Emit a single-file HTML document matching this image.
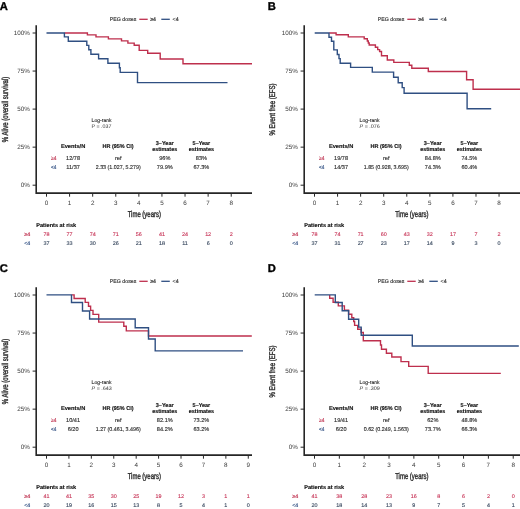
<!DOCTYPE html>
<html><head><meta charset="utf-8"><style>
html,body{margin:0;padding:0;background:#fff;}
svg{display:block;will-change:transform;text-rendering:geometricPrecision;font-family:"Liberation Sans",sans-serif;}
</style></head><body>
<svg width="520" height="509" viewBox="0 0 520 509">
<rect width="520" height="509" fill="#fff"/>
<g transform="translate(0,0)">
<text x="-0.30" y="9.80" font-size="11.2" font-weight="bold" fill="#000" stroke="#000" stroke-width="0.35">A</text>
<text x="109.80" y="20.60" font-size="5.3" textLength="26.5" lengthAdjust="spacingAndGlyphs" fill="#2e2e2e" stroke="#2e2e2e" stroke-width="0.14">PEG doses</text>
<line x1="139.3" y1="19.3" x2="147.7" y2="19.3" stroke="#be2f4d" stroke-width="1.3"/>
<text x="150.20" y="20.60" font-size="5.3" textLength="5.8" lengthAdjust="spacingAndGlyphs" fill="#2e2e2e" stroke="#2e2e2e" stroke-width="0.14">&#8805;4</text>
<line x1="161.3" y1="19.3" x2="169.8" y2="19.3" stroke="#2f4f82" stroke-width="1.3"/>
<text x="172.60" y="20.60" font-size="5.3" textLength="6.0" lengthAdjust="spacingAndGlyphs" fill="#2e2e2e" stroke="#2e2e2e" stroke-width="0.14">&lt;4</text>
<text transform="translate(8.2,109.5) rotate(-90)" font-size="8.6" text-anchor="middle" fill="#2e2e2e" stroke="#2e2e2e" stroke-width="0.4" textLength="65.4" lengthAdjust="spacingAndGlyphs">% Alive (overall survival)</text>
<line x1="32.6" y1="33.00" x2="36.2" y2="33.00" stroke="#262626" stroke-width="1"/>
<text x="29.80" y="35.25" font-size="6.3" text-anchor="end" fill="#3a3a3a" stroke="none">100%</text>
<line x1="32.6" y1="71.05" x2="36.2" y2="71.05" stroke="#262626" stroke-width="1"/>
<text x="29.80" y="73.30" font-size="6.3" text-anchor="end" fill="#3a3a3a" stroke="none">75%</text>
<line x1="32.6" y1="109.10" x2="36.2" y2="109.10" stroke="#262626" stroke-width="1"/>
<text x="29.80" y="111.35" font-size="6.3" text-anchor="end" fill="#3a3a3a" stroke="none">50%</text>
<line x1="32.6" y1="147.15" x2="36.2" y2="147.15" stroke="#262626" stroke-width="1"/>
<text x="29.80" y="149.40" font-size="6.3" text-anchor="end" fill="#3a3a3a" stroke="none">25%</text>
<line x1="32.6" y1="185.20" x2="36.2" y2="185.20" stroke="#262626" stroke-width="1"/>
<text x="29.80" y="187.45" font-size="6.3" text-anchor="end" fill="#3a3a3a" stroke="none">0%</text>
<line x1="46.50" y1="193" x2="46.50" y2="196.7" stroke="#262626" stroke-width="1"/>
<text x="46.50" y="205.00" font-size="6.3" text-anchor="middle" fill="#3a3a3a" stroke="none">0</text>
<line x1="69.59" y1="193" x2="69.59" y2="196.7" stroke="#262626" stroke-width="1"/>
<text x="69.59" y="205.00" font-size="6.3" text-anchor="middle" fill="#3a3a3a" stroke="none">1</text>
<line x1="92.68" y1="193" x2="92.68" y2="196.7" stroke="#262626" stroke-width="1"/>
<text x="92.68" y="205.00" font-size="6.3" text-anchor="middle" fill="#3a3a3a" stroke="none">2</text>
<line x1="115.77" y1="193" x2="115.77" y2="196.7" stroke="#262626" stroke-width="1"/>
<text x="115.77" y="205.00" font-size="6.3" text-anchor="middle" fill="#3a3a3a" stroke="none">3</text>
<line x1="138.86" y1="193" x2="138.86" y2="196.7" stroke="#262626" stroke-width="1"/>
<text x="138.86" y="205.00" font-size="6.3" text-anchor="middle" fill="#3a3a3a" stroke="none">4</text>
<line x1="161.95" y1="193" x2="161.95" y2="196.7" stroke="#262626" stroke-width="1"/>
<text x="161.95" y="205.00" font-size="6.3" text-anchor="middle" fill="#3a3a3a" stroke="none">5</text>
<line x1="185.04" y1="193" x2="185.04" y2="196.7" stroke="#262626" stroke-width="1"/>
<text x="185.04" y="205.00" font-size="6.3" text-anchor="middle" fill="#3a3a3a" stroke="none">6</text>
<line x1="208.13" y1="193" x2="208.13" y2="196.7" stroke="#262626" stroke-width="1"/>
<text x="208.13" y="205.00" font-size="6.3" text-anchor="middle" fill="#3a3a3a" stroke="none">7</text>
<line x1="231.22" y1="193" x2="231.22" y2="196.7" stroke="#262626" stroke-width="1"/>
<text x="231.22" y="205.00" font-size="6.3" text-anchor="middle" fill="#3a3a3a" stroke="none">8</text>
<path d="M36.2,25.3 V193.1 H252" fill="none" stroke="#262626" stroke-width="1.6"/>
<text x="127.70" y="217.20" font-size="8.6" textLength="33.2" lengthAdjust="spacingAndGlyphs" fill="#2e2e2e" stroke="#2e2e2e" stroke-width="0.4">Time (years)</text>
<path d="M64.60,33.00 H87.40 V34.90 H96.00 V36.90 H108.40 V38.90 H121.50 V40.90 H127.90 V43.10 H134.20 V45.20 H139.20 V50.40 H147.70 V53.20 H160.20 V59.00 H183.00 V63.80 H252.00" fill="none" stroke="#be2f4d" stroke-width="1.4"/>
<path d="M46.50,33.00 H64.40 V36.90 H68.30 V41.30 H86.80 V45.40 H88.80 V49.80 H90.90 V54.30 H98.60 V58.80 H107.90 V63.20 H119.40 V67.80 H120.20 V72.40 H137.50 V82.60 H227.50" fill="none" stroke="#2f4f82" stroke-width="1.4"/>
<text x="91.60" y="121.80" font-size="5.2" textLength="20.0" lengthAdjust="spacingAndGlyphs" fill="#2e2e2e" stroke="#2e2e2e" stroke-width="0.14">Log-rank</text>
<text x="91.6" y="128.0" font-size="5.2" fill="#2e2e2e" textLength="19.8" lengthAdjust="spacingAndGlyphs"><tspan>P</tspan> = .037</text>
<text x="73.10" y="147.80" font-size="5.6" text-anchor="middle" font-weight="bold" textLength="24.4" lengthAdjust="spacingAndGlyphs" fill="#111111" stroke="#111111" stroke-width="0.14">Events/N</text>
<text x="118.00" y="147.80" font-size="5.6" text-anchor="middle" font-weight="bold" textLength="31.1" lengthAdjust="spacingAndGlyphs" fill="#111111" stroke="#111111" stroke-width="0.14">HR (95% CI)</text>
<text x="164.70" y="144.70" font-size="5.6" text-anchor="middle" font-weight="bold" textLength="17.8" lengthAdjust="spacingAndGlyphs" fill="#111111" stroke="#111111" stroke-width="0.14">3&#8211;Year</text>
<text x="164.70" y="150.80" font-size="5.6" text-anchor="middle" font-weight="bold" textLength="25.0" lengthAdjust="spacingAndGlyphs" fill="#111111" stroke="#111111" stroke-width="0.14">estimates</text>
<text x="201.40" y="144.70" font-size="5.6" text-anchor="middle" font-weight="bold" textLength="17.6" lengthAdjust="spacingAndGlyphs" fill="#111111" stroke="#111111" stroke-width="0.14">5&#8211;Year</text>
<text x="201.40" y="150.80" font-size="5.6" text-anchor="middle" font-weight="bold" textLength="25.2" lengthAdjust="spacingAndGlyphs" fill="#111111" stroke="#111111" stroke-width="0.14">estimates</text>
<text x="53.80" y="159.90" font-size="5.6" text-anchor="middle" textLength="5.4" lengthAdjust="spacingAndGlyphs" fill="#be2f4d" stroke="#be2f4d" stroke-width="0.14">&#8805;4</text>
<text x="73.10" y="159.90" font-size="5.6" text-anchor="middle" fill="#2e2e2e" stroke="#2e2e2e" stroke-width="0.14">12/78</text>
<text x="118.20" y="159.90" font-size="5.6" text-anchor="middle" fill="#2e2e2e" stroke="#2e2e2e" stroke-width="0.14">ref</text>
<text x="164.80" y="159.90" font-size="5.6" text-anchor="middle" fill="#2e2e2e" stroke="#2e2e2e" stroke-width="0.14">96%</text>
<text x="201.40" y="159.90" font-size="5.6" text-anchor="middle" fill="#2e2e2e" stroke="#2e2e2e" stroke-width="0.14">83%</text>
<text x="53.80" y="168.90" font-size="5.6" text-anchor="middle" textLength="5.4" lengthAdjust="spacingAndGlyphs" fill="#2f4f82" stroke="#2f4f82" stroke-width="0.14">&lt;4</text>
<text x="73.10" y="168.90" font-size="5.6" text-anchor="middle" fill="#2e2e2e" stroke="#2e2e2e" stroke-width="0.14">11/37</text>
<text x="118.20" y="168.90" font-size="5.6" text-anchor="middle" textLength="45.0" lengthAdjust="spacingAndGlyphs" fill="#2e2e2e" stroke="#2e2e2e" stroke-width="0.14">2.33 (1.027, 5.279)</text>
<text x="164.80" y="168.90" font-size="5.6" text-anchor="middle" fill="#2e2e2e" stroke="#2e2e2e" stroke-width="0.14">79.9%</text>
<text x="201.40" y="168.90" font-size="5.6" text-anchor="middle" fill="#2e2e2e" stroke="#2e2e2e" stroke-width="0.14">67.3%</text>
<text x="36.20" y="226.90" font-size="5.6" font-weight="bold" textLength="40.0" lengthAdjust="spacingAndGlyphs" fill="#111111" stroke="#111111" stroke-width="0.14">Patients at risk</text>
<text x="24.20" y="236.30" font-size="5.4" textLength="6.0" lengthAdjust="spacingAndGlyphs" fill="#be2f4d" stroke="#be2f4d" stroke-width="0.14">&#8805;4</text>
<text x="24.20" y="245.20" font-size="5.4" textLength="6.0" lengthAdjust="spacingAndGlyphs" fill="#2f4f82" stroke="#2f4f82" stroke-width="0.14">&lt;4</text>
<text x="46.50" y="236.30" font-size="5.4" text-anchor="middle" fill="#c8385a" stroke="#c8385a" stroke-width="0.14">78</text>
<text x="46.50" y="245.20" font-size="5.4" text-anchor="middle" fill="#3a4a60" stroke="#3a4a60" stroke-width="0.14">37</text>
<text x="69.59" y="236.30" font-size="5.4" text-anchor="middle" fill="#c8385a" stroke="#c8385a" stroke-width="0.14">77</text>
<text x="69.59" y="245.20" font-size="5.4" text-anchor="middle" fill="#3a4a60" stroke="#3a4a60" stroke-width="0.14">33</text>
<text x="92.68" y="236.30" font-size="5.4" text-anchor="middle" fill="#c8385a" stroke="#c8385a" stroke-width="0.14">74</text>
<text x="92.68" y="245.20" font-size="5.4" text-anchor="middle" fill="#3a4a60" stroke="#3a4a60" stroke-width="0.14">30</text>
<text x="115.77" y="236.30" font-size="5.4" text-anchor="middle" fill="#c8385a" stroke="#c8385a" stroke-width="0.14">71</text>
<text x="115.77" y="245.20" font-size="5.4" text-anchor="middle" fill="#3a4a60" stroke="#3a4a60" stroke-width="0.14">26</text>
<text x="138.86" y="236.30" font-size="5.4" text-anchor="middle" fill="#c8385a" stroke="#c8385a" stroke-width="0.14">56</text>
<text x="138.86" y="245.20" font-size="5.4" text-anchor="middle" fill="#3a4a60" stroke="#3a4a60" stroke-width="0.14">21</text>
<text x="161.95" y="236.30" font-size="5.4" text-anchor="middle" fill="#c8385a" stroke="#c8385a" stroke-width="0.14">41</text>
<text x="161.95" y="245.20" font-size="5.4" text-anchor="middle" fill="#3a4a60" stroke="#3a4a60" stroke-width="0.14">18</text>
<text x="185.04" y="236.30" font-size="5.4" text-anchor="middle" fill="#c8385a" stroke="#c8385a" stroke-width="0.14">24</text>
<text x="185.04" y="245.20" font-size="5.4" text-anchor="middle" fill="#3a4a60" stroke="#3a4a60" stroke-width="0.14">11</text>
<text x="208.13" y="236.30" font-size="5.4" text-anchor="middle" fill="#c8385a" stroke="#c8385a" stroke-width="0.14">12</text>
<text x="208.13" y="245.20" font-size="5.4" text-anchor="middle" fill="#3a4a60" stroke="#3a4a60" stroke-width="0.14">6</text>
<text x="231.22" y="236.30" font-size="5.4" text-anchor="middle" fill="#c8385a" stroke="#c8385a" stroke-width="0.14">2</text>
<text x="231.22" y="245.20" font-size="5.4" text-anchor="middle" fill="#3a4a60" stroke="#3a4a60" stroke-width="0.14">0</text>
</g>
<g transform="translate(268,0)">
<text x="-0.30" y="9.80" font-size="11.2" font-weight="bold" fill="#000" stroke="#000" stroke-width="0.35">B</text>
<text x="109.80" y="20.60" font-size="5.3" textLength="26.5" lengthAdjust="spacingAndGlyphs" fill="#2e2e2e" stroke="#2e2e2e" stroke-width="0.14">PEG doses</text>
<line x1="139.3" y1="19.3" x2="147.7" y2="19.3" stroke="#be2f4d" stroke-width="1.3"/>
<text x="150.20" y="20.60" font-size="5.3" textLength="5.8" lengthAdjust="spacingAndGlyphs" fill="#2e2e2e" stroke="#2e2e2e" stroke-width="0.14">&#8805;4</text>
<line x1="161.3" y1="19.3" x2="169.8" y2="19.3" stroke="#2f4f82" stroke-width="1.3"/>
<text x="172.60" y="20.60" font-size="5.3" textLength="6.0" lengthAdjust="spacingAndGlyphs" fill="#2e2e2e" stroke="#2e2e2e" stroke-width="0.14">&lt;4</text>
<text transform="translate(7.2,109.5) rotate(-90)" font-size="8.3" text-anchor="middle" fill="#2e2e2e" stroke="#2e2e2e" stroke-width="0.4" textLength="52.0" lengthAdjust="spacingAndGlyphs">% Event free (EFS)</text>
<line x1="32.6" y1="33.00" x2="36.2" y2="33.00" stroke="#262626" stroke-width="1"/>
<text x="29.80" y="35.25" font-size="6.3" text-anchor="end" fill="#3a3a3a" stroke="none">100%</text>
<line x1="32.6" y1="71.05" x2="36.2" y2="71.05" stroke="#262626" stroke-width="1"/>
<text x="29.80" y="73.30" font-size="6.3" text-anchor="end" fill="#3a3a3a" stroke="none">75%</text>
<line x1="32.6" y1="109.10" x2="36.2" y2="109.10" stroke="#262626" stroke-width="1"/>
<text x="29.80" y="111.35" font-size="6.3" text-anchor="end" fill="#3a3a3a" stroke="none">50%</text>
<line x1="32.6" y1="147.15" x2="36.2" y2="147.15" stroke="#262626" stroke-width="1"/>
<text x="29.80" y="149.40" font-size="6.3" text-anchor="end" fill="#3a3a3a" stroke="none">25%</text>
<line x1="32.6" y1="185.20" x2="36.2" y2="185.20" stroke="#262626" stroke-width="1"/>
<text x="29.80" y="187.45" font-size="6.3" text-anchor="end" fill="#3a3a3a" stroke="none">0%</text>
<line x1="46.50" y1="193" x2="46.50" y2="196.7" stroke="#262626" stroke-width="1"/>
<text x="46.50" y="205.00" font-size="6.3" text-anchor="middle" fill="#3a3a3a" stroke="none">0</text>
<line x1="69.57" y1="193" x2="69.57" y2="196.7" stroke="#262626" stroke-width="1"/>
<text x="69.57" y="205.00" font-size="6.3" text-anchor="middle" fill="#3a3a3a" stroke="none">1</text>
<line x1="92.64" y1="193" x2="92.64" y2="196.7" stroke="#262626" stroke-width="1"/>
<text x="92.64" y="205.00" font-size="6.3" text-anchor="middle" fill="#3a3a3a" stroke="none">2</text>
<line x1="115.71" y1="193" x2="115.71" y2="196.7" stroke="#262626" stroke-width="1"/>
<text x="115.71" y="205.00" font-size="6.3" text-anchor="middle" fill="#3a3a3a" stroke="none">3</text>
<line x1="138.78" y1="193" x2="138.78" y2="196.7" stroke="#262626" stroke-width="1"/>
<text x="138.78" y="205.00" font-size="6.3" text-anchor="middle" fill="#3a3a3a" stroke="none">4</text>
<line x1="161.85" y1="193" x2="161.85" y2="196.7" stroke="#262626" stroke-width="1"/>
<text x="161.85" y="205.00" font-size="6.3" text-anchor="middle" fill="#3a3a3a" stroke="none">5</text>
<line x1="184.92" y1="193" x2="184.92" y2="196.7" stroke="#262626" stroke-width="1"/>
<text x="184.92" y="205.00" font-size="6.3" text-anchor="middle" fill="#3a3a3a" stroke="none">6</text>
<line x1="207.99" y1="193" x2="207.99" y2="196.7" stroke="#262626" stroke-width="1"/>
<text x="207.99" y="205.00" font-size="6.3" text-anchor="middle" fill="#3a3a3a" stroke="none">7</text>
<line x1="231.06" y1="193" x2="231.06" y2="196.7" stroke="#262626" stroke-width="1"/>
<text x="231.06" y="205.00" font-size="6.3" text-anchor="middle" fill="#3a3a3a" stroke="none">8</text>
<path d="M36.2,25.3 V193.1 H252" fill="none" stroke="#262626" stroke-width="1.6"/>
<text x="127.20" y="217.20" font-size="8.6" textLength="33.2" lengthAdjust="spacingAndGlyphs" fill="#2e2e2e" stroke="#2e2e2e" stroke-width="0.4">Time (years)</text>
<path d="M61.20,33.00 H68.10 V34.80 H80.30 V36.90 H96.20 V38.80 H99.30 V41.00 H100.30 V43.00 H101.20 V45.00 H107.40 V47.30 H109.70 V49.60 H111.60 V51.50 H113.50 V55.80 H119.30 V60.00 H125.80 V62.40 H141.30 V65.30 H143.80 V68.30 H160.30 V71.50 H198.60 V79.70 H205.10 V89.30 H252.00" fill="none" stroke="#be2f4d" stroke-width="1.4"/>
<path d="M46.70,33.00 H61.00 V37.20 H63.50 V41.30 H65.80 V49.90 H69.30 V54.50 H71.00 V58.60 H72.20 V63.20 H82.60 V67.40 H104.30 V72.10 H125.60 V77.20 H130.20 V82.70 H134.20 V87.60 H136.10 V93.20 H199.10 V108.70 H223.20" fill="none" stroke="#2f4f82" stroke-width="1.4"/>
<text x="91.60" y="121.80" font-size="5.2" textLength="20.0" lengthAdjust="spacingAndGlyphs" fill="#2e2e2e" stroke="#2e2e2e" stroke-width="0.14">Log-rank</text>
<text x="91.6" y="128.0" font-size="5.2" fill="#2e2e2e" textLength="20.2" lengthAdjust="spacingAndGlyphs"><tspan font-style="italic">P</tspan> = .076</text>
<text x="73.10" y="147.80" font-size="5.6" text-anchor="middle" font-weight="bold" textLength="24.4" lengthAdjust="spacingAndGlyphs" fill="#111111" stroke="#111111" stroke-width="0.14">Events/N</text>
<text x="118.00" y="147.80" font-size="5.6" text-anchor="middle" font-weight="bold" textLength="31.1" lengthAdjust="spacingAndGlyphs" fill="#111111" stroke="#111111" stroke-width="0.14">HR (95% CI)</text>
<text x="164.70" y="144.70" font-size="5.6" text-anchor="middle" font-weight="bold" textLength="17.8" lengthAdjust="spacingAndGlyphs" fill="#111111" stroke="#111111" stroke-width="0.14">3&#8211;Year</text>
<text x="164.70" y="150.80" font-size="5.6" text-anchor="middle" font-weight="bold" textLength="25.0" lengthAdjust="spacingAndGlyphs" fill="#111111" stroke="#111111" stroke-width="0.14">estimates</text>
<text x="201.40" y="144.70" font-size="5.6" text-anchor="middle" font-weight="bold" textLength="17.6" lengthAdjust="spacingAndGlyphs" fill="#111111" stroke="#111111" stroke-width="0.14">5&#8211;Year</text>
<text x="201.40" y="150.80" font-size="5.6" text-anchor="middle" font-weight="bold" textLength="25.2" lengthAdjust="spacingAndGlyphs" fill="#111111" stroke="#111111" stroke-width="0.14">estimates</text>
<text x="53.80" y="159.90" font-size="5.6" text-anchor="middle" textLength="5.4" lengthAdjust="spacingAndGlyphs" fill="#be2f4d" stroke="#be2f4d" stroke-width="0.14">&#8805;4</text>
<text x="73.10" y="159.90" font-size="5.6" text-anchor="middle" fill="#2e2e2e" stroke="#2e2e2e" stroke-width="0.14">19/78</text>
<text x="118.20" y="159.90" font-size="5.6" text-anchor="middle" fill="#2e2e2e" stroke="#2e2e2e" stroke-width="0.14">ref</text>
<text x="164.80" y="159.90" font-size="5.6" text-anchor="middle" fill="#2e2e2e" stroke="#2e2e2e" stroke-width="0.14">84.8%</text>
<text x="201.40" y="159.90" font-size="5.6" text-anchor="middle" fill="#2e2e2e" stroke="#2e2e2e" stroke-width="0.14">74.5%</text>
<text x="53.80" y="168.90" font-size="5.6" text-anchor="middle" textLength="5.4" lengthAdjust="spacingAndGlyphs" fill="#2f4f82" stroke="#2f4f82" stroke-width="0.14">&lt;4</text>
<text x="73.10" y="168.90" font-size="5.6" text-anchor="middle" fill="#2e2e2e" stroke="#2e2e2e" stroke-width="0.14">14/37</text>
<text x="118.20" y="168.90" font-size="5.6" text-anchor="middle" textLength="45.0" lengthAdjust="spacingAndGlyphs" fill="#2e2e2e" stroke="#2e2e2e" stroke-width="0.14">1.85 (0.928, 3.695)</text>
<text x="164.80" y="168.90" font-size="5.6" text-anchor="middle" fill="#2e2e2e" stroke="#2e2e2e" stroke-width="0.14">74.3%</text>
<text x="201.40" y="168.90" font-size="5.6" text-anchor="middle" fill="#2e2e2e" stroke="#2e2e2e" stroke-width="0.14">60.4%</text>
<text x="36.20" y="226.90" font-size="5.6" font-weight="bold" textLength="40.0" lengthAdjust="spacingAndGlyphs" fill="#111111" stroke="#111111" stroke-width="0.14">Patients at risk</text>
<text x="24.20" y="236.30" font-size="5.4" textLength="6.0" lengthAdjust="spacingAndGlyphs" fill="#be2f4d" stroke="#be2f4d" stroke-width="0.14">&#8805;4</text>
<text x="24.20" y="245.20" font-size="5.4" textLength="6.0" lengthAdjust="spacingAndGlyphs" fill="#2f4f82" stroke="#2f4f82" stroke-width="0.14">&lt;4</text>
<text x="46.50" y="236.30" font-size="5.4" text-anchor="middle" fill="#c8385a" stroke="#c8385a" stroke-width="0.14">78</text>
<text x="46.50" y="245.20" font-size="5.4" text-anchor="middle" fill="#3a4a60" stroke="#3a4a60" stroke-width="0.14">37</text>
<text x="69.57" y="236.30" font-size="5.4" text-anchor="middle" fill="#c8385a" stroke="#c8385a" stroke-width="0.14">74</text>
<text x="69.57" y="245.20" font-size="5.4" text-anchor="middle" fill="#3a4a60" stroke="#3a4a60" stroke-width="0.14">31</text>
<text x="92.64" y="236.30" font-size="5.4" text-anchor="middle" fill="#c8385a" stroke="#c8385a" stroke-width="0.14">71</text>
<text x="92.64" y="245.20" font-size="5.4" text-anchor="middle" fill="#3a4a60" stroke="#3a4a60" stroke-width="0.14">27</text>
<text x="115.71" y="236.30" font-size="5.4" text-anchor="middle" fill="#c8385a" stroke="#c8385a" stroke-width="0.14">60</text>
<text x="115.71" y="245.20" font-size="5.4" text-anchor="middle" fill="#3a4a60" stroke="#3a4a60" stroke-width="0.14">23</text>
<text x="138.78" y="236.30" font-size="5.4" text-anchor="middle" fill="#c8385a" stroke="#c8385a" stroke-width="0.14">43</text>
<text x="138.78" y="245.20" font-size="5.4" text-anchor="middle" fill="#3a4a60" stroke="#3a4a60" stroke-width="0.14">17</text>
<text x="161.85" y="236.30" font-size="5.4" text-anchor="middle" fill="#c8385a" stroke="#c8385a" stroke-width="0.14">32</text>
<text x="161.85" y="245.20" font-size="5.4" text-anchor="middle" fill="#3a4a60" stroke="#3a4a60" stroke-width="0.14">14</text>
<text x="184.92" y="236.30" font-size="5.4" text-anchor="middle" fill="#c8385a" stroke="#c8385a" stroke-width="0.14">17</text>
<text x="184.92" y="245.20" font-size="5.4" text-anchor="middle" fill="#3a4a60" stroke="#3a4a60" stroke-width="0.14">9</text>
<text x="207.99" y="236.30" font-size="5.4" text-anchor="middle" fill="#c8385a" stroke="#c8385a" stroke-width="0.14">7</text>
<text x="207.99" y="245.20" font-size="5.4" text-anchor="middle" fill="#3a4a60" stroke="#3a4a60" stroke-width="0.14">3</text>
<text x="231.06" y="236.30" font-size="5.4" text-anchor="middle" fill="#c8385a" stroke="#c8385a" stroke-width="0.14">2</text>
<text x="231.06" y="245.20" font-size="5.4" text-anchor="middle" fill="#3a4a60" stroke="#3a4a60" stroke-width="0.14">0</text>
</g>
<g transform="translate(0,262.0)">
<text x="-0.30" y="9.80" font-size="11.2" font-weight="bold" fill="#000" stroke="#000" stroke-width="0.35">C</text>
<text x="109.80" y="20.60" font-size="5.3" textLength="26.5" lengthAdjust="spacingAndGlyphs" fill="#2e2e2e" stroke="#2e2e2e" stroke-width="0.14">PEG doses</text>
<line x1="139.3" y1="19.3" x2="147.7" y2="19.3" stroke="#be2f4d" stroke-width="1.3"/>
<text x="150.20" y="20.60" font-size="5.3" textLength="5.8" lengthAdjust="spacingAndGlyphs" fill="#2e2e2e" stroke="#2e2e2e" stroke-width="0.14">&#8805;4</text>
<line x1="161.3" y1="19.3" x2="169.8" y2="19.3" stroke="#2f4f82" stroke-width="1.3"/>
<text x="172.60" y="20.60" font-size="5.3" textLength="6.0" lengthAdjust="spacingAndGlyphs" fill="#2e2e2e" stroke="#2e2e2e" stroke-width="0.14">&lt;4</text>
<text transform="translate(8.2,109.5) rotate(-90)" font-size="8.6" text-anchor="middle" fill="#2e2e2e" stroke="#2e2e2e" stroke-width="0.4" textLength="65.4" lengthAdjust="spacingAndGlyphs">% Alive (overall survival)</text>
<line x1="32.6" y1="33.00" x2="36.2" y2="33.00" stroke="#262626" stroke-width="1"/>
<text x="29.80" y="35.25" font-size="6.3" text-anchor="end" fill="#3a3a3a" stroke="none">100%</text>
<line x1="32.6" y1="71.05" x2="36.2" y2="71.05" stroke="#262626" stroke-width="1"/>
<text x="29.80" y="73.30" font-size="6.3" text-anchor="end" fill="#3a3a3a" stroke="none">75%</text>
<line x1="32.6" y1="109.10" x2="36.2" y2="109.10" stroke="#262626" stroke-width="1"/>
<text x="29.80" y="111.35" font-size="6.3" text-anchor="end" fill="#3a3a3a" stroke="none">50%</text>
<line x1="32.6" y1="147.15" x2="36.2" y2="147.15" stroke="#262626" stroke-width="1"/>
<text x="29.80" y="149.40" font-size="6.3" text-anchor="end" fill="#3a3a3a" stroke="none">25%</text>
<line x1="32.6" y1="185.20" x2="36.2" y2="185.20" stroke="#262626" stroke-width="1"/>
<text x="29.80" y="187.45" font-size="6.3" text-anchor="end" fill="#3a3a3a" stroke="none">0%</text>
<line x1="46.50" y1="193" x2="46.50" y2="196.7" stroke="#262626" stroke-width="1"/>
<text x="46.50" y="205.00" font-size="6.3" text-anchor="middle" fill="#3a3a3a" stroke="none">0</text>
<line x1="68.92" y1="193" x2="68.92" y2="196.7" stroke="#262626" stroke-width="1"/>
<text x="68.92" y="205.00" font-size="6.3" text-anchor="middle" fill="#3a3a3a" stroke="none">1</text>
<line x1="91.34" y1="193" x2="91.34" y2="196.7" stroke="#262626" stroke-width="1"/>
<text x="91.34" y="205.00" font-size="6.3" text-anchor="middle" fill="#3a3a3a" stroke="none">2</text>
<line x1="113.76" y1="193" x2="113.76" y2="196.7" stroke="#262626" stroke-width="1"/>
<text x="113.76" y="205.00" font-size="6.3" text-anchor="middle" fill="#3a3a3a" stroke="none">3</text>
<line x1="136.18" y1="193" x2="136.18" y2="196.7" stroke="#262626" stroke-width="1"/>
<text x="136.18" y="205.00" font-size="6.3" text-anchor="middle" fill="#3a3a3a" stroke="none">4</text>
<line x1="158.60" y1="193" x2="158.60" y2="196.7" stroke="#262626" stroke-width="1"/>
<text x="158.60" y="205.00" font-size="6.3" text-anchor="middle" fill="#3a3a3a" stroke="none">5</text>
<line x1="181.02" y1="193" x2="181.02" y2="196.7" stroke="#262626" stroke-width="1"/>
<text x="181.02" y="205.00" font-size="6.3" text-anchor="middle" fill="#3a3a3a" stroke="none">6</text>
<line x1="203.44" y1="193" x2="203.44" y2="196.7" stroke="#262626" stroke-width="1"/>
<text x="203.44" y="205.00" font-size="6.3" text-anchor="middle" fill="#3a3a3a" stroke="none">7</text>
<line x1="225.86" y1="193" x2="225.86" y2="196.7" stroke="#262626" stroke-width="1"/>
<text x="225.86" y="205.00" font-size="6.3" text-anchor="middle" fill="#3a3a3a" stroke="none">8</text>
<line x1="248.28" y1="193" x2="248.28" y2="196.7" stroke="#262626" stroke-width="1"/>
<text x="248.28" y="205.00" font-size="6.3" text-anchor="middle" fill="#3a3a3a" stroke="none">9</text>
<path d="M36.2,25.3 V193.1 H252" fill="none" stroke="#262626" stroke-width="1.6"/>
<text x="127.70" y="217.20" font-size="8.6" textLength="33.2" lengthAdjust="spacingAndGlyphs" fill="#2e2e2e" stroke="#2e2e2e" stroke-width="0.4">Time (years)</text>
<path d="M71.70,32.90 H74.10 V36.50 H85.20 V40.40 H88.50 V44.20 H90.60 V48.40 H93.00 V52.40 H98.70 V60.10 H123.80 V64.30 H126.30 V68.90 H148.50 V74.00 H251.80" fill="none" stroke="#be2f4d" stroke-width="1.4"/>
<path d="M46.50,32.90 H71.50 V40.50 H82.50 V49.00 H89.60 V57.00 H135.20 V65.80 H148.50 V77.00 H155.20 V88.90 H243.00" fill="none" stroke="#2f4f82" stroke-width="1.4"/>
<text x="91.60" y="121.80" font-size="5.2" textLength="20.0" lengthAdjust="spacingAndGlyphs" fill="#2e2e2e" stroke="#2e2e2e" stroke-width="0.14">Log-rank</text>
<text x="91.6" y="128.0" font-size="5.2" fill="#2e2e2e" textLength="20.2" lengthAdjust="spacingAndGlyphs"><tspan font-style="italic">P</tspan> = .643</text>
<text x="73.10" y="147.80" font-size="5.6" text-anchor="middle" font-weight="bold" textLength="24.4" lengthAdjust="spacingAndGlyphs" fill="#111111" stroke="#111111" stroke-width="0.14">Events/N</text>
<text x="118.00" y="147.80" font-size="5.6" text-anchor="middle" font-weight="bold" textLength="31.1" lengthAdjust="spacingAndGlyphs" fill="#111111" stroke="#111111" stroke-width="0.14">HR (95% CI)</text>
<text x="164.70" y="144.70" font-size="5.6" text-anchor="middle" font-weight="bold" textLength="17.8" lengthAdjust="spacingAndGlyphs" fill="#111111" stroke="#111111" stroke-width="0.14">3&#8211;Year</text>
<text x="164.70" y="150.80" font-size="5.6" text-anchor="middle" font-weight="bold" textLength="25.0" lengthAdjust="spacingAndGlyphs" fill="#111111" stroke="#111111" stroke-width="0.14">estimates</text>
<text x="201.40" y="144.70" font-size="5.6" text-anchor="middle" font-weight="bold" textLength="17.6" lengthAdjust="spacingAndGlyphs" fill="#111111" stroke="#111111" stroke-width="0.14">5&#8211;Year</text>
<text x="201.40" y="150.80" font-size="5.6" text-anchor="middle" font-weight="bold" textLength="25.2" lengthAdjust="spacingAndGlyphs" fill="#111111" stroke="#111111" stroke-width="0.14">estimates</text>
<text x="53.80" y="159.90" font-size="5.6" text-anchor="middle" textLength="5.4" lengthAdjust="spacingAndGlyphs" fill="#be2f4d" stroke="#be2f4d" stroke-width="0.14">&#8805;4</text>
<text x="73.10" y="159.90" font-size="5.6" text-anchor="middle" fill="#2e2e2e" stroke="#2e2e2e" stroke-width="0.14">10/41</text>
<text x="118.20" y="159.90" font-size="5.6" text-anchor="middle" fill="#2e2e2e" stroke="#2e2e2e" stroke-width="0.14">ref</text>
<text x="164.80" y="159.90" font-size="5.6" text-anchor="middle" fill="#2e2e2e" stroke="#2e2e2e" stroke-width="0.14">82.1%</text>
<text x="201.40" y="159.90" font-size="5.6" text-anchor="middle" fill="#2e2e2e" stroke="#2e2e2e" stroke-width="0.14">73.2%</text>
<text x="53.80" y="168.90" font-size="5.6" text-anchor="middle" textLength="5.4" lengthAdjust="spacingAndGlyphs" fill="#2f4f82" stroke="#2f4f82" stroke-width="0.14">&lt;4</text>
<text x="73.10" y="168.90" font-size="5.6" text-anchor="middle" fill="#2e2e2e" stroke="#2e2e2e" stroke-width="0.14">6/20</text>
<text x="118.20" y="168.90" font-size="5.6" text-anchor="middle" textLength="45.0" lengthAdjust="spacingAndGlyphs" fill="#2e2e2e" stroke="#2e2e2e" stroke-width="0.14">1.27 (0.461, 3.496)</text>
<text x="164.80" y="168.90" font-size="5.6" text-anchor="middle" fill="#2e2e2e" stroke="#2e2e2e" stroke-width="0.14">84.2%</text>
<text x="201.40" y="168.90" font-size="5.6" text-anchor="middle" fill="#2e2e2e" stroke="#2e2e2e" stroke-width="0.14">63.2%</text>
<text x="36.20" y="226.90" font-size="5.6" font-weight="bold" textLength="40.0" lengthAdjust="spacingAndGlyphs" fill="#111111" stroke="#111111" stroke-width="0.14">Patients at risk</text>
<text x="24.20" y="236.30" font-size="5.4" textLength="6.0" lengthAdjust="spacingAndGlyphs" fill="#be2f4d" stroke="#be2f4d" stroke-width="0.14">&#8805;4</text>
<text x="24.20" y="245.20" font-size="5.4" textLength="6.0" lengthAdjust="spacingAndGlyphs" fill="#2f4f82" stroke="#2f4f82" stroke-width="0.14">&lt;4</text>
<text x="46.50" y="236.30" font-size="5.4" text-anchor="middle" fill="#c8385a" stroke="#c8385a" stroke-width="0.14">41</text>
<text x="46.50" y="245.20" font-size="5.4" text-anchor="middle" fill="#3a4a60" stroke="#3a4a60" stroke-width="0.14">20</text>
<text x="68.92" y="236.30" font-size="5.4" text-anchor="middle" fill="#c8385a" stroke="#c8385a" stroke-width="0.14">41</text>
<text x="68.92" y="245.20" font-size="5.4" text-anchor="middle" fill="#3a4a60" stroke="#3a4a60" stroke-width="0.14">19</text>
<text x="91.34" y="236.30" font-size="5.4" text-anchor="middle" fill="#c8385a" stroke="#c8385a" stroke-width="0.14">35</text>
<text x="91.34" y="245.20" font-size="5.4" text-anchor="middle" fill="#3a4a60" stroke="#3a4a60" stroke-width="0.14">16</text>
<text x="113.76" y="236.30" font-size="5.4" text-anchor="middle" fill="#c8385a" stroke="#c8385a" stroke-width="0.14">30</text>
<text x="113.76" y="245.20" font-size="5.4" text-anchor="middle" fill="#3a4a60" stroke="#3a4a60" stroke-width="0.14">15</text>
<text x="136.18" y="236.30" font-size="5.4" text-anchor="middle" fill="#c8385a" stroke="#c8385a" stroke-width="0.14">25</text>
<text x="136.18" y="245.20" font-size="5.4" text-anchor="middle" fill="#3a4a60" stroke="#3a4a60" stroke-width="0.14">13</text>
<text x="158.60" y="236.30" font-size="5.4" text-anchor="middle" fill="#c8385a" stroke="#c8385a" stroke-width="0.14">19</text>
<text x="158.60" y="245.20" font-size="5.4" text-anchor="middle" fill="#3a4a60" stroke="#3a4a60" stroke-width="0.14">8</text>
<text x="181.02" y="236.30" font-size="5.4" text-anchor="middle" fill="#c8385a" stroke="#c8385a" stroke-width="0.14">12</text>
<text x="181.02" y="245.20" font-size="5.4" text-anchor="middle" fill="#3a4a60" stroke="#3a4a60" stroke-width="0.14">5</text>
<text x="203.44" y="236.30" font-size="5.4" text-anchor="middle" fill="#c8385a" stroke="#c8385a" stroke-width="0.14">3</text>
<text x="203.44" y="245.20" font-size="5.4" text-anchor="middle" fill="#3a4a60" stroke="#3a4a60" stroke-width="0.14">4</text>
<text x="225.86" y="236.30" font-size="5.4" text-anchor="middle" fill="#c8385a" stroke="#c8385a" stroke-width="0.14">1</text>
<text x="225.86" y="245.20" font-size="5.4" text-anchor="middle" fill="#3a4a60" stroke="#3a4a60" stroke-width="0.14">1</text>
<text x="248.28" y="236.30" font-size="5.4" text-anchor="middle" fill="#c8385a" stroke="#c8385a" stroke-width="0.14">1</text>
<text x="248.28" y="245.20" font-size="5.4" text-anchor="middle" fill="#3a4a60" stroke="#3a4a60" stroke-width="0.14">0</text>
</g>
<g transform="translate(268,262.0)">
<text x="-0.30" y="9.80" font-size="11.2" font-weight="bold" fill="#000" stroke="#000" stroke-width="0.35">D</text>
<text x="109.80" y="20.60" font-size="5.3" textLength="26.5" lengthAdjust="spacingAndGlyphs" fill="#2e2e2e" stroke="#2e2e2e" stroke-width="0.14">PEG doses</text>
<line x1="139.3" y1="19.3" x2="147.7" y2="19.3" stroke="#be2f4d" stroke-width="1.3"/>
<text x="150.20" y="20.60" font-size="5.3" textLength="5.8" lengthAdjust="spacingAndGlyphs" fill="#2e2e2e" stroke="#2e2e2e" stroke-width="0.14">&#8805;4</text>
<line x1="161.3" y1="19.3" x2="169.8" y2="19.3" stroke="#2f4f82" stroke-width="1.3"/>
<text x="172.60" y="20.60" font-size="5.3" textLength="6.0" lengthAdjust="spacingAndGlyphs" fill="#2e2e2e" stroke="#2e2e2e" stroke-width="0.14">&lt;4</text>
<text transform="translate(7.2,109.5) rotate(-90)" font-size="8.3" text-anchor="middle" fill="#2e2e2e" stroke="#2e2e2e" stroke-width="0.4" textLength="52.0" lengthAdjust="spacingAndGlyphs">% Event free (EFS)</text>
<line x1="32.6" y1="33.00" x2="36.2" y2="33.00" stroke="#262626" stroke-width="1"/>
<text x="29.80" y="35.25" font-size="6.3" text-anchor="end" fill="#3a3a3a" stroke="none">100%</text>
<line x1="32.6" y1="71.05" x2="36.2" y2="71.05" stroke="#262626" stroke-width="1"/>
<text x="29.80" y="73.30" font-size="6.3" text-anchor="end" fill="#3a3a3a" stroke="none">75%</text>
<line x1="32.6" y1="109.10" x2="36.2" y2="109.10" stroke="#262626" stroke-width="1"/>
<text x="29.80" y="111.35" font-size="6.3" text-anchor="end" fill="#3a3a3a" stroke="none">50%</text>
<line x1="32.6" y1="147.15" x2="36.2" y2="147.15" stroke="#262626" stroke-width="1"/>
<text x="29.80" y="149.40" font-size="6.3" text-anchor="end" fill="#3a3a3a" stroke="none">25%</text>
<line x1="32.6" y1="185.20" x2="36.2" y2="185.20" stroke="#262626" stroke-width="1"/>
<text x="29.80" y="187.45" font-size="6.3" text-anchor="end" fill="#3a3a3a" stroke="none">0%</text>
<line x1="46.50" y1="193" x2="46.50" y2="196.7" stroke="#262626" stroke-width="1"/>
<text x="46.50" y="205.00" font-size="6.3" text-anchor="middle" fill="#3a3a3a" stroke="none">0</text>
<line x1="71.34" y1="193" x2="71.34" y2="196.7" stroke="#262626" stroke-width="1"/>
<text x="71.34" y="205.00" font-size="6.3" text-anchor="middle" fill="#3a3a3a" stroke="none">1</text>
<line x1="96.18" y1="193" x2="96.18" y2="196.7" stroke="#262626" stroke-width="1"/>
<text x="96.18" y="205.00" font-size="6.3" text-anchor="middle" fill="#3a3a3a" stroke="none">2</text>
<line x1="121.02" y1="193" x2="121.02" y2="196.7" stroke="#262626" stroke-width="1"/>
<text x="121.02" y="205.00" font-size="6.3" text-anchor="middle" fill="#3a3a3a" stroke="none">3</text>
<line x1="145.86" y1="193" x2="145.86" y2="196.7" stroke="#262626" stroke-width="1"/>
<text x="145.86" y="205.00" font-size="6.3" text-anchor="middle" fill="#3a3a3a" stroke="none">4</text>
<line x1="170.70" y1="193" x2="170.70" y2="196.7" stroke="#262626" stroke-width="1"/>
<text x="170.70" y="205.00" font-size="6.3" text-anchor="middle" fill="#3a3a3a" stroke="none">5</text>
<line x1="195.54" y1="193" x2="195.54" y2="196.7" stroke="#262626" stroke-width="1"/>
<text x="195.54" y="205.00" font-size="6.3" text-anchor="middle" fill="#3a3a3a" stroke="none">6</text>
<line x1="220.38" y1="193" x2="220.38" y2="196.7" stroke="#262626" stroke-width="1"/>
<text x="220.38" y="205.00" font-size="6.3" text-anchor="middle" fill="#3a3a3a" stroke="none">7</text>
<line x1="245.22" y1="193" x2="245.22" y2="196.7" stroke="#262626" stroke-width="1"/>
<text x="245.22" y="205.00" font-size="6.3" text-anchor="middle" fill="#3a3a3a" stroke="none">8</text>
<path d="M36.2,25.3 V193.1 H252" fill="none" stroke="#262626" stroke-width="1.6"/>
<text x="127.20" y="217.20" font-size="8.6" textLength="33.2" lengthAdjust="spacingAndGlyphs" fill="#2e2e2e" stroke="#2e2e2e" stroke-width="0.4">Time (years)</text>
<path d="M61.70,32.90 H61.70 V36.30 H65.10 V40.20 H70.30 V43.90 H76.40 V48.10 H80.60 V52.20 H83.80 V55.80 H85.70 V59.50 H86.60 V63.40 H89.70 V67.30 H93.20 V70.50 H95.30 V78.70 H112.50 V83.00 H113.50 V87.30 H118.40 V91.30 H123.80 V95.00 H133.00 V99.60 H140.70 V104.40 H160.20 V111.40 H232.80" fill="none" stroke="#be2f4d" stroke-width="1.4"/>
<path d="M46.70,32.90 H67.30 V40.50 H74.20 V48.70 H80.60 V57.20 H90.70 V65.10 H93.20 V73.20 H144.30 V84.00 H250.80" fill="none" stroke="#2f4f82" stroke-width="1.4"/>
<text x="91.60" y="121.80" font-size="5.2" textLength="20.0" lengthAdjust="spacingAndGlyphs" fill="#2e2e2e" stroke="#2e2e2e" stroke-width="0.14">Log-rank</text>
<text x="91.6" y="128.0" font-size="5.2" fill="#2e2e2e" textLength="20.2" lengthAdjust="spacingAndGlyphs"><tspan font-style="italic">P</tspan> = .309</text>
<text x="73.10" y="147.80" font-size="5.6" text-anchor="middle" font-weight="bold" textLength="24.4" lengthAdjust="spacingAndGlyphs" fill="#111111" stroke="#111111" stroke-width="0.14">Events/N</text>
<text x="118.00" y="147.80" font-size="5.6" text-anchor="middle" font-weight="bold" textLength="31.1" lengthAdjust="spacingAndGlyphs" fill="#111111" stroke="#111111" stroke-width="0.14">HR (95% CI)</text>
<text x="164.70" y="144.70" font-size="5.6" text-anchor="middle" font-weight="bold" textLength="17.8" lengthAdjust="spacingAndGlyphs" fill="#111111" stroke="#111111" stroke-width="0.14">3&#8211;Year</text>
<text x="164.70" y="150.80" font-size="5.6" text-anchor="middle" font-weight="bold" textLength="25.0" lengthAdjust="spacingAndGlyphs" fill="#111111" stroke="#111111" stroke-width="0.14">estimates</text>
<text x="201.40" y="144.70" font-size="5.6" text-anchor="middle" font-weight="bold" textLength="17.6" lengthAdjust="spacingAndGlyphs" fill="#111111" stroke="#111111" stroke-width="0.14">5&#8211;Year</text>
<text x="201.40" y="150.80" font-size="5.6" text-anchor="middle" font-weight="bold" textLength="25.2" lengthAdjust="spacingAndGlyphs" fill="#111111" stroke="#111111" stroke-width="0.14">estimates</text>
<text x="53.80" y="159.90" font-size="5.6" text-anchor="middle" textLength="5.4" lengthAdjust="spacingAndGlyphs" fill="#be2f4d" stroke="#be2f4d" stroke-width="0.14">&#8805;4</text>
<text x="73.10" y="159.90" font-size="5.6" text-anchor="middle" fill="#2e2e2e" stroke="#2e2e2e" stroke-width="0.14">19/41</text>
<text x="118.20" y="159.90" font-size="5.6" text-anchor="middle" fill="#2e2e2e" stroke="#2e2e2e" stroke-width="0.14">ref</text>
<text x="164.80" y="159.90" font-size="5.6" text-anchor="middle" fill="#2e2e2e" stroke="#2e2e2e" stroke-width="0.14">62%</text>
<text x="201.40" y="159.90" font-size="5.6" text-anchor="middle" fill="#2e2e2e" stroke="#2e2e2e" stroke-width="0.14">48.8%</text>
<text x="53.80" y="168.90" font-size="5.6" text-anchor="middle" textLength="5.4" lengthAdjust="spacingAndGlyphs" fill="#2f4f82" stroke="#2f4f82" stroke-width="0.14">&lt;4</text>
<text x="73.10" y="168.90" font-size="5.6" text-anchor="middle" fill="#2e2e2e" stroke="#2e2e2e" stroke-width="0.14">6/20</text>
<text x="118.20" y="168.90" font-size="5.6" text-anchor="middle" textLength="45.0" lengthAdjust="spacingAndGlyphs" fill="#2e2e2e" stroke="#2e2e2e" stroke-width="0.14">0.62 (0.249, 1.563)</text>
<text x="164.80" y="168.90" font-size="5.6" text-anchor="middle" fill="#2e2e2e" stroke="#2e2e2e" stroke-width="0.14">73.7%</text>
<text x="201.40" y="168.90" font-size="5.6" text-anchor="middle" fill="#2e2e2e" stroke="#2e2e2e" stroke-width="0.14">66.3%</text>
<text x="36.20" y="226.90" font-size="5.6" font-weight="bold" textLength="40.0" lengthAdjust="spacingAndGlyphs" fill="#111111" stroke="#111111" stroke-width="0.14">Patients at risk</text>
<text x="24.20" y="236.30" font-size="5.4" textLength="6.0" lengthAdjust="spacingAndGlyphs" fill="#be2f4d" stroke="#be2f4d" stroke-width="0.14">&#8805;4</text>
<text x="24.20" y="245.20" font-size="5.4" textLength="6.0" lengthAdjust="spacingAndGlyphs" fill="#2f4f82" stroke="#2f4f82" stroke-width="0.14">&lt;4</text>
<text x="46.50" y="236.30" font-size="5.4" text-anchor="middle" fill="#c8385a" stroke="#c8385a" stroke-width="0.14">41</text>
<text x="46.50" y="245.20" font-size="5.4" text-anchor="middle" fill="#3a4a60" stroke="#3a4a60" stroke-width="0.14">20</text>
<text x="71.34" y="236.30" font-size="5.4" text-anchor="middle" fill="#c8385a" stroke="#c8385a" stroke-width="0.14">38</text>
<text x="71.34" y="245.20" font-size="5.4" text-anchor="middle" fill="#3a4a60" stroke="#3a4a60" stroke-width="0.14">18</text>
<text x="96.18" y="236.30" font-size="5.4" text-anchor="middle" fill="#c8385a" stroke="#c8385a" stroke-width="0.14">28</text>
<text x="96.18" y="245.20" font-size="5.4" text-anchor="middle" fill="#3a4a60" stroke="#3a4a60" stroke-width="0.14">14</text>
<text x="121.02" y="236.30" font-size="5.4" text-anchor="middle" fill="#c8385a" stroke="#c8385a" stroke-width="0.14">23</text>
<text x="121.02" y="245.20" font-size="5.4" text-anchor="middle" fill="#3a4a60" stroke="#3a4a60" stroke-width="0.14">13</text>
<text x="145.86" y="236.30" font-size="5.4" text-anchor="middle" fill="#c8385a" stroke="#c8385a" stroke-width="0.14">16</text>
<text x="145.86" y="245.20" font-size="5.4" text-anchor="middle" fill="#3a4a60" stroke="#3a4a60" stroke-width="0.14">9</text>
<text x="170.70" y="236.30" font-size="5.4" text-anchor="middle" fill="#c8385a" stroke="#c8385a" stroke-width="0.14">8</text>
<text x="170.70" y="245.20" font-size="5.4" text-anchor="middle" fill="#3a4a60" stroke="#3a4a60" stroke-width="0.14">7</text>
<text x="195.54" y="236.30" font-size="5.4" text-anchor="middle" fill="#c8385a" stroke="#c8385a" stroke-width="0.14">6</text>
<text x="195.54" y="245.20" font-size="5.4" text-anchor="middle" fill="#3a4a60" stroke="#3a4a60" stroke-width="0.14">5</text>
<text x="220.38" y="236.30" font-size="5.4" text-anchor="middle" fill="#c8385a" stroke="#c8385a" stroke-width="0.14">2</text>
<text x="220.38" y="245.20" font-size="5.4" text-anchor="middle" fill="#3a4a60" stroke="#3a4a60" stroke-width="0.14">4</text>
<text x="245.22" y="236.30" font-size="5.4" text-anchor="middle" fill="#c8385a" stroke="#c8385a" stroke-width="0.14">0</text>
<text x="245.22" y="245.20" font-size="5.4" text-anchor="middle" fill="#3a4a60" stroke="#3a4a60" stroke-width="0.14">1</text>
</g>
</svg>
</body></html>
